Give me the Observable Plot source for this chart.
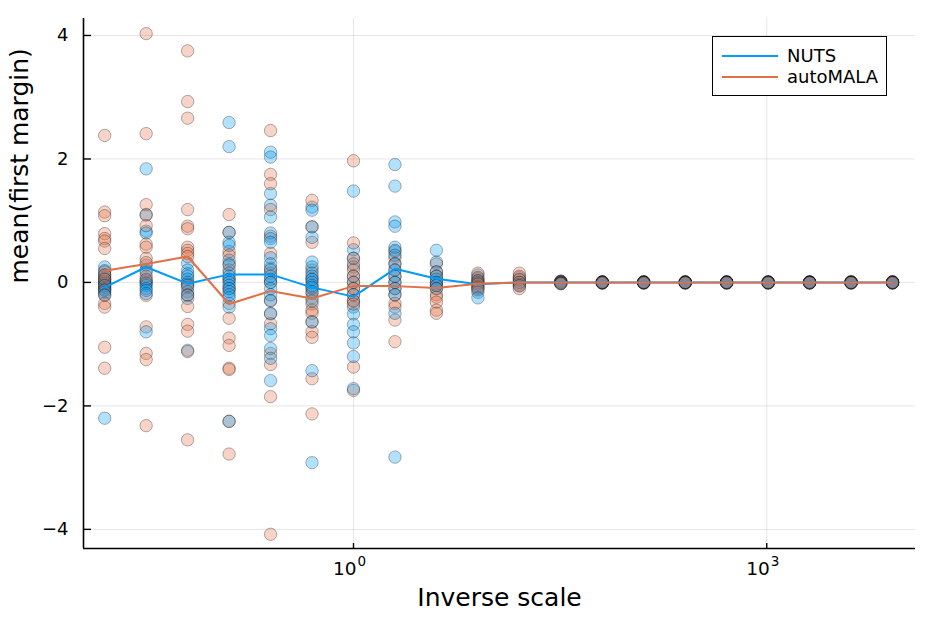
<!DOCTYPE html>
<html>
<head>
<meta charset="utf-8">
<script src="https://cdn.jsdelivr.net/npm/d3@7"></script>
<script src="https://cdn.jsdelivr.net/npm/@observablehq/plot@0.6"></script>
<style>
  html, body { margin: 0; padding: 0; background: #fff; }
  body { font-family: "DejaVu Sans", sans-serif; }
  #wrap { position: relative; width: 934px; height: 623px; }
  #legend { position: absolute; left: 712px; top: 36px; width: 173px; height: 58px;
            border: 1.5px solid #000; background: #fff; }
  .sw { position: absolute; left: 9px; width: 56px; height: 2px; }
  .lt { position: absolute; left: 74px; font-size: 18px; line-height: 20px; color: #000; white-space: nowrap; }
</style>
</head>
<body>
<div id="wrap"></div>
<script>
// ---- data ----
const xValues = [0.015625, 0.03125, 0.0625, 0.125, 0.25, 0.5, 1, 2, 4, 8, 16, 32, 64, 128, 256, 512, 1024, 2048, 4096, 8192];

const seriesNames = ["NUTS", "autoMALA"];
const seriesColors = ["#009AFA", "#E36F47"];

const nutsMean = [-0.08, 0.25, -0.02, 0.13, 0.13, -0.08, -0.23, 0.22, 0.06, -0.03, 0.0, 0, 0, 0, 0, 0, 0, 0, 0, 0];
const automalaMean = [0.19, 0.30, 0.42, -0.35, -0.14, -0.26, -0.06, -0.06, -0.09, -0.02, 0.0, 0, 0, 0, 0, 0, 0, 0, 0, 0];

const nutsPoints = [
  [0.25, 0.19, 0.12, 0.08, 0.05, 0.02, 0.0, -0.02, -0.05, -0.08, -0.1, -0.13, -0.16, -0.2, -2.2],
  [1.84, 1.1, 0.83, 0.8, 0.28, 0.2, 0.1, 0.03, 0.0, -0.02, -0.05, -0.1, -0.13, -0.18, -0.8],
  [0.31, 0.2, 0.14, 0.1, 0.05, 0.0, -0.03, -0.08, -0.15, -0.2, -0.26, -1.1],
  [2.59, 2.2, 0.81, 0.65, 0.6, 0.36, 0.28, 0.15, 0.1, 0.05, 0.0, -0.05, -0.1, -0.15, -0.2, -0.25, -0.4, -2.25],
  [2.11, 2.03, 1.44, 1.25, 1.06, 0.8, 0.71, 0.65, 0.4, 0.3, 0.2, 0.1, 0.05, 0.0, -0.1, -0.2, -0.3, -0.5, -0.75, -0.86, -1.07, -1.23, -1.59],
  [1.22, 1.17, 0.9, 0.73, 0.33, 0.25, 0.15, 0.1, 0.05, 0.0, -0.05, -0.08, -0.15, -0.3, -0.64, -1.43, -2.92],
  [1.48, 0.53, 0.39, 0.25, 0.1, 0.0, -0.1, -0.2, -0.3, -0.4, -0.51, -0.68, -0.8, -0.98, -1.2, -1.72],
  [1.91, 1.56, 0.98, 0.91, 0.57, 0.52, 0.44, 0.3, 0.2, 0.1, 0.0, -0.1, -0.2, -0.5, -2.83],
  [0.52, 0.33, 0.17, 0.1, 0.05, 0.0, -0.05, -0.1],
  [0.12, 0.06, 0.02, -0.02, -0.06, -0.1, -0.16, -0.25],
  [0.08, 0.04, 0.0, -0.03, -0.06],
  [0.02, 0.01, 0.0, -0.01, -0.02],
  [0.01, 0.005, 0.0, -0.005, -0.01, 0.0],
  [0.01, 0.005, 0.0, -0.005, -0.01, 0.0],
  [0.01, 0.005, 0.0, -0.005, -0.01, 0.0],
  [0.01, 0.005, 0.0, -0.005, -0.01, 0.0],
  [0.01, 0.005, 0.0, -0.005, -0.01, 0.0],
  [0.01, 0.005, 0.0, -0.005, -0.01, 0.0],
  [0.01, 0.005, 0.0, -0.005, -0.01, 0.0],
  [0.01, 0.005, 0.0, -0.005, -0.01, 0.0]
];

const automalaPoints = [
  [2.38, 1.14, 1.08, 0.79, 0.71, 0.67, 0.55, 0.17, 0.12, 0.05, -0.05, -0.12, -0.21, -0.34, -0.4, -1.05, -1.39],
  [4.03, 2.41, 1.26, 1.09, 0.92, 0.62, 0.57, 0.39, 0.32, 0.17, 0.05, -0.21, -0.72, -1.15, -1.25, -2.32],
  [3.75, 2.93, 2.66, 1.18, 0.91, 0.87, 0.57, 0.52, 0.47, 0.42, -0.05, -0.21, -0.39, -0.68, -0.79, -1.12, -2.55],
  [1.1, 0.81, 0.5, 0.44, 0.3, 0.2, 0.05, -0.1, -0.34, -0.58, -0.9, -1.02, -1.39, -1.41, -2.25, -2.78],
  [2.46, 1.75, 1.6, 1.18, 0.75, 0.47, 0.23, 0.15, 0.0, -0.29, -0.51, -0.67, -1.15, -1.33, -1.85, -4.08],
  [1.33, 0.9, 0.65, 0.2, 0.05, -0.1, -0.18, -0.25, -0.35, -0.45, -0.5, -0.64, -0.8, -0.89, -1.56, -2.13],
  [1.97, 0.64, 0.39, 0.3, 0.2, 0.1, 0.0, -0.1, -0.2, -0.3, -0.35, -1.37, -1.75],
  [0.5, 0.4, 0.3, 0.2, 0.1, 0.0, -0.1, -0.2, -0.34, -0.4, -0.61, -0.96],
  [0.3, 0.17, 0.1, 0.0, -0.05, -0.1, -0.2, -0.24, -0.32, -0.45, -0.5],
  [0.15, 0.08, 0.03, 0.0, -0.03, -0.08, -0.12],
  [0.15, 0.1, 0.05, 0.0, -0.05, -0.1],
  [0.02, 0.01, 0.0, -0.01, -0.02],
  [0.01, 0.005, 0.0, -0.005, -0.01, 0.0],
  [0.01, 0.005, 0.0, -0.005, -0.01, 0.0],
  [0.01, 0.005, 0.0, -0.005, -0.01, 0.0],
  [0.01, 0.005, 0.0, -0.005, -0.01, 0.0],
  [0.01, 0.005, 0.0, -0.005, -0.01, 0.0],
  [0.01, 0.005, 0.0, -0.005, -0.01, 0.0],
  [0.01, 0.005, 0.0, -0.005, -0.01, 0.0],
  [0.01, 0.005, 0.0, -0.005, -0.01, 0.0]
];

const xTicks = [1, 1000];
const xTickBase = "10";
const xTickExponents = ["0", "3"];
const yTicks = [-4, -2, 0, 2, 4];
const xLabel = "Inverse scale";
const yLabel = "mean(first margin)";

// ---- layout ----
const xDomain = [Math.pow(10, -1.96), Math.pow(10, 4.08)];
const yDomain = [-4.31, 4.275];

// ---- tables built from arrays ----
const pointSets = [nutsPoints, automalaPoints];
const meanSets = [nutsMean, automalaMean];
// interleave the two samplers' replicates so overlapping markers mix as in the reference
const dots = [];
xValues.forEach((xv, i) => {
  const n = Math.max(nutsPoints[i].length, automalaPoints[i].length);
  for (let k = 0; k < n; k++) {
    pointSets.forEach((ps, s) => {
      if (k < ps[i].length) dots.push({x: xv, y: ps[i][k], series: seriesNames[s]});
    });
  }
});
const lines = seriesNames.map((name, s) =>
  meanSets[s].map((v, i) => ({x: xValues[i], y: v, series: name})));

const chart = Plot.plot({
  width: 934,
  height: 623,
  marginLeft: 83,
  marginRight: 19,
  marginTop: 18,
  marginBottom: 75,
  style: {background: "#fff", fontFamily: "DejaVu Sans, sans-serif", color: "#000", overflow: "visible"},
  x: {type: "log", domain: xDomain, label: null},
  y: {domain: yDomain, label: null},
  color: {domain: seriesNames, range: seriesColors},
  marks: [
    Plot.ruleY(yTicks, {stroke: "#000", strokeOpacity: 0.1, strokeWidth: 1}),
    Plot.ruleX(xTicks, {stroke: "#000", strokeOpacity: 0.1, strokeWidth: 1}),
    Plot.dot(dots, {
      x: "x", y: "y", r: 6.2,
      fill: "series", fillOpacity: 0.3,
      stroke: "#000", strokeOpacity: 0.3, strokeWidth: 1
    }),
    ...lines.map((d, s) => Plot.line(d, {
      x: "x", y: "y", stroke: seriesColors[s], strokeWidth: 2
    })),
    Plot.ruleX([xDomain[0]], {stroke: "#000", strokeWidth: 1.6}),
    Plot.ruleY([yDomain[0]], {stroke: "#000", strokeWidth: 1.6}),
    Plot.axisY(yTicks, {anchor: "left", tickSize: -8, tickPadding: 23, fontSize: 18, strokeWidth: 1.4,
      tickFormat: d3.format("d"), label: null}),
    Plot.axisX(xTicks, {anchor: "bottom", tickSize: -5, tickPadding: 21, strokeWidth: 1.4,
      tickFormat: () => "", label: null}),
    Plot.text(xTicks, {x: d => d, frameAnchor: "bottom", text: () => xTickBase,
      textAnchor: "end", dx: 3, dy: 26, fontSize: 18.5, fill: "#000"}),
    Plot.text(xTicks, {x: d => d, frameAnchor: "bottom", text: (d, i) => xTickExponents[i],
      textAnchor: "start", dx: 4, dy: 17, fontSize: 13.5, fill: "#000"}),
    Plot.text([xLabel], {frameAnchor: "bottom", dy: 57, fontSize: 25, fill: "#000"}),
    Plot.text([yLabel], {frameAnchor: "left", dx: -64, rotate: -90, fontSize: 25, fill: "#000"})
  ]
});

const wrap = document.getElementById("wrap");
wrap.appendChild(chart);

// legend (inside the plot area, as in the reference)
const legend = document.createElement("div");
legend.id = "legend";
seriesNames.forEach((name, s) => {
  const cy = 19 + s * 20.5;
  const sw = document.createElement("div");
  sw.className = "sw";
  sw.style.top = (cy - 1) + "px";
  sw.style.background = seriesColors[s];
  const lt = document.createElement("div");
  lt.className = "lt";
  lt.style.top = (cy - 10) + "px";
  lt.textContent = name;
  legend.appendChild(sw);
  legend.appendChild(lt);
});
wrap.appendChild(legend);
</script>
</body>
</html>
